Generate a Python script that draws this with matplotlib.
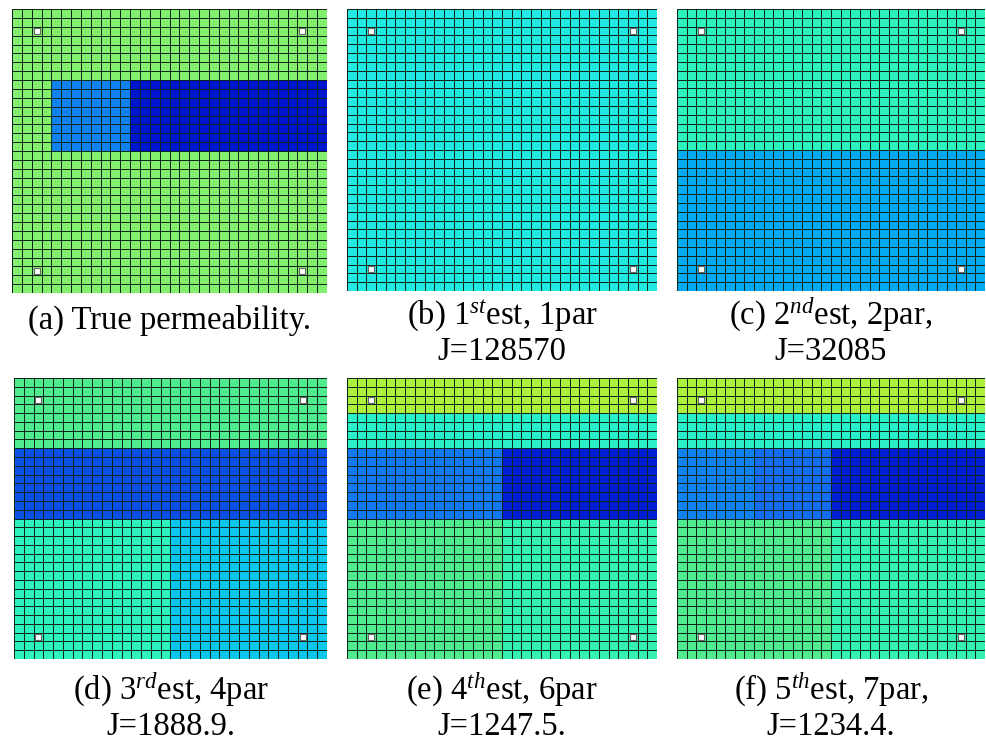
import matplotlib
matplotlib.use("Agg")
import matplotlib.pyplot as plt
import numpy as np
from matplotlib.colors import LinearSegmentedColormap

plt.rcParams['font.family'] = ['Liberation Serif', 'DejaVu Serif']
plt.rcParams['mathtext.fontset'] = 'custom'
plt.rcParams['mathtext.rm'] = 'Liberation Serif'
plt.rcParams['mathtext.it'] = 'Liberation Serif:italic'

# grid size
nx, ny = 32, 32

# zones: (row_start, row_end, col_start, col_end, value) -- rows counted from top
zones_a = [(0, 32, 0, 32, 0.70), (8, 16, 4, 12, 0.22), (8, 16, 12, 32, 0.0)]
zones_b = [(0, 32, 0, 32, 0.42)]
zones_c = [(0, 16, 0, 32, 0.50), (16, 32, 0, 32, 0.30)]
zones_d = [(0, 8, 0, 32, 0.60), (8, 16, 0, 32, 0.12),
           (16, 32, 0, 16, 0.50), (16, 32, 16, 32, 0.35)]
zones_e = [(0, 4, 0, 32, 0.80), (4, 8, 0, 32, 0.48),
           (8, 16, 0, 16, 0.20), (8, 16, 16, 32, 0.02),
           (16, 32, 0, 16, 0.60), (16, 32, 16, 32, 0.52)]
zones_f = [(0, 4, 0, 32, 0.80), (4, 8, 0, 32, 0.48),
           (8, 16, 0, 8, 0.22), (8, 16, 8, 16, 0.18), (8, 16, 16, 32, 0.02),
           (16, 32, 0, 16, 0.60), (16, 32, 16, 32, 0.52)]

# well cells (row, col)
well_rows = [2, 2, 29, 29]
well_cols = [2, 29, 2, 29]

captions = [
    "(a) True permeability.",
    "(b) 1$^{st}$est, 1par\nJ=128570",
    "(c) 2$^{nd}$est, 2par,\nJ=32085",
    "(d) 3$^{rd}$est, 4par\nJ=1888.9.",
    "(e) 4$^{th}$est, 6par\nJ=1247.5.",
    "(f) 5$^{th}$est, 7par,\nJ=1234.4.",
]

# washed-out jet-like colours seen in the figure
cmap_stops = [0.0, 0.2, 0.3, 0.4, 0.5, 0.6, 0.7, 0.8, 1.0]
cmap_cols = [(0, 20, 210), (20, 120, 240), (0, 170, 240), (30, 230, 235),
             (45, 242, 190), (80, 235, 140), (130, 240, 110), (170, 240, 60),
             (240, 240, 40)]
cmap = LinearSegmentedColormap.from_list(
    "perm", [(s, tuple(c / 255 for c in col)) for s, col in zip(cmap_stops, cmap_cols)])


def make_field(zones):
    f = np.zeros((ny, nx))
    for r0, r1, c0, c1, v in zones:
        f[r0:r1, c0:c1] = v
    return f


W, H = 986, 743
fig = plt.figure(figsize=(W / 100, H / 100), dpi=100)

# axes boxes in pixels: left, top, right, bottom
boxes = [(12, 9, 327, 293), (347, 9, 657, 291), (677, 9, 985, 291),
         (14, 378, 327, 659), (347, 378, 657, 659), (677, 378, 985, 659)]
all_zones = [zones_a, zones_b, zones_c, zones_d, zones_e, zones_f]

for i, (zones, box, cap) in enumerate(zip(all_zones, boxes, captions)):
    l, t, r, b = box
    ax = fig.add_axes([l / W, 1 - b / H, (r - l) / W, (b - t) / H])
    field = make_field(zones)
    ax.pcolormesh(field, cmap=cmap, vmin=0, vmax=1,
                  edgecolors=(0.05, 0.15, 0.1), linewidth=0.7)
    ax.plot(np.array(well_cols) + 0.5, np.array(well_rows) + 0.5, 's',
            ms=5, mfc='white', mec='0.4', mew=0.8)
    ax.set_xlim(0, nx)
    ax.set_ylim(ny, 0)
    ax.set_xticks([])
    ax.set_yticks([])
    for s in ax.spines.values():
        s.set_visible(False)

    cx = (l + r) / 2
    if i == 0:
        fig.text(cx / W, 1 - 320 / H, cap, ha='center', va='center', fontsize=23.5)
    else:
        y0 = 315 if i < 3 else 690
        line1, line2 = cap.split("\n")
        fig.text(cx / W, 1 - y0 / H, line1, ha='center', va='center', fontsize=23.5)
        fig.text(cx / W, 1 - (y0 + 37) / H, line2, ha='center', va='center', fontsize=23.5)

fig.savefig("out.png", dpi=100)
